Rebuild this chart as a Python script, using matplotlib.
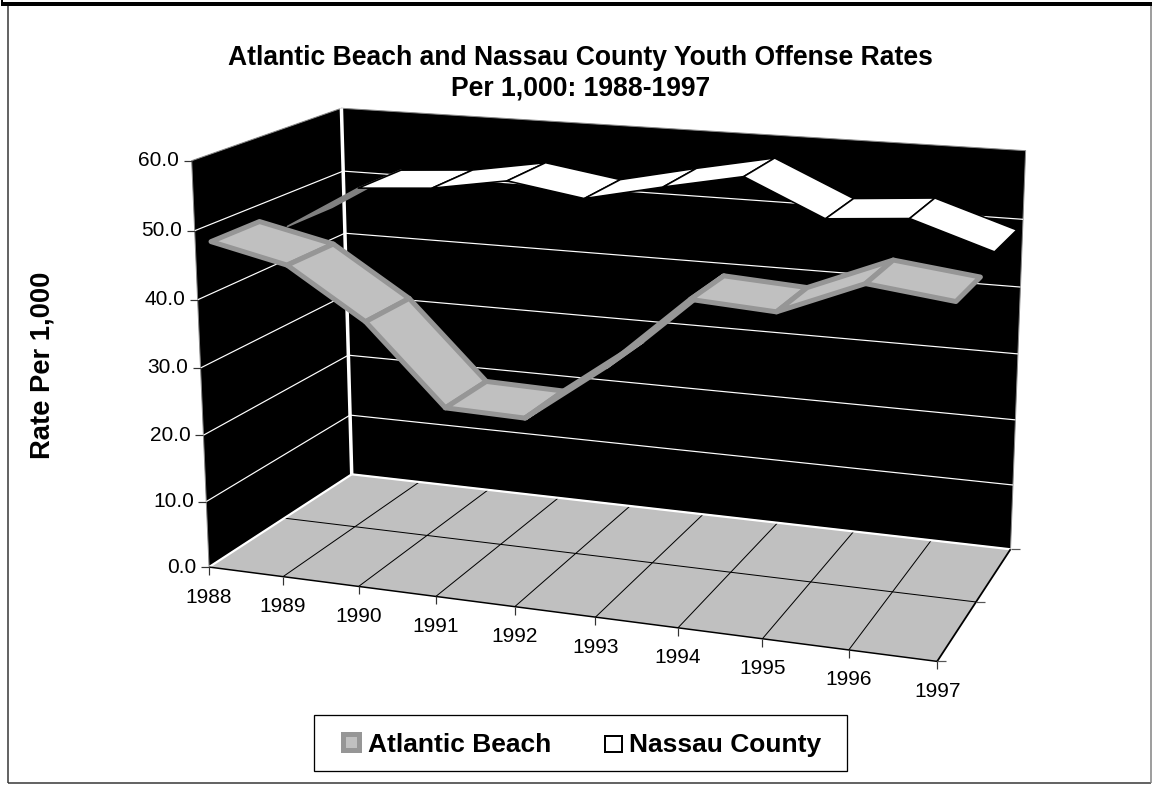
import numpy as np, matplotlib
matplotlib.use('Agg')
import matplotlib.pyplot as plt
from matplotlib.patches import Polygon, Rectangle

plt.rcParams['font.family'] = ['Liberation Sans', 'DejaVu Sans']

years = [1988, 1989, 1990, 1991, 1992, 1993, 1994, 1995, 1996, 1997]
atlantic_beach = [47.5, 45.0, 37.8, 26.4, 26.1, 34.6, 45.0, 44.3, 49.1, 47.7]
nassau_county = [45.0, 51.7, 52.5, 54.4, 52.6, 55.1, 57.4, 52.2, 53.1, 49.3]
value_ticks = [0, 10, 20, 30, 40, 50, 60]
title_lines = ['Atlantic Beach and Nassau County Youth Offense Rates', 'Per 1,000: 1988-1997']

# perspective camera of the 3-D box: (category, depth, value/10, 1) -> pixel
CAM = np.array([[70.97148, 183.36199, -4.15773, 209.08152],
                [3.47811, -37.84146, -68.78253, 567.06046],
                [-0.01059, 0.11578, -0.00656, 1.0]])

def project(u, z, v):
    h = CAM @ np.array([u, z, v / 10.0, 1.0])
    return h[0] / h[2], h[1] / h[2]

fig = plt.figure(figsize=(11.52, 7.86), dpi=100, facecolor='white')
ax = fig.add_axes([0, 0, 1, 1])
ax.set_xlim(0, 1152); ax.set_ylim(786, 0); ax.axis('off')
PX = 72.0 / 100.0
n = len(years) - 1
vmax = value_ticks[-1]
BLACK, WHITE, FLOOR, EDGE, UNDER = '#000000', '#ffffff', '#c0c0c0', '#969696', '#808080'

def line(p, q, c, lw, zo=2, cap='butt'):
    ax.plot([p[0], q[0]], [p[1], q[1]], color=c, lw=lw * PX, zorder=zo, solid_capstyle=cap)

# outer frame
line((7.5, 4), (7.5, 783), '#333333', 1.5, 1)
line((7.5, 783), (1151, 783), '#333333', 1.5, 1)
line((1151, 4), (1151, 783), '#808080', 1.5, 1)
ax.add_patch(Rectangle((1, 2), 1151, 4, fc=BLACK, ec='none', zorder=1.1))
ax.add_patch(Rectangle((1, 0), 1.5, 4, fc=BLACK, ec='none', zorder=1.1))

# walls and floor
ax.add_patch(Polygon([project(0, 0, 0), project(0, 1, 0), project(0, 1, vmax), project(0, 0, vmax)],
                     fc=BLACK, ec='#888888', lw=1 * PX, zorder=2))
ax.add_patch(Polygon([project(0, 1, 0), project(n, 1, 0), project(n, 1, vmax), project(0, 1, vmax)],
                     fc=BLACK, ec='#888888', lw=1 * PX, zorder=2))
ax.add_patch(Polygon([project(0, 0, 0), project(n, 0, 0), project(n, 1, 0), project(0, 1, 0)],
                     fc=FLOOR, ec='none', zorder=2.1))

# value gridlines
for v in value_ticks[1:-1]:
    line(project(0, 0, v), project(0, 1, v), WHITE, 1.2, 2.2)
    line(project(0, 1, v), project(n, 1, v), WHITE, 1.2, 2.2)

# floor grid
for k in range(1, n):
    line(project(k, 0, 0), project(k, 1, 0), BLACK, 1, 2.3)
line(project(0, .5, 0), project(n, .5, 0), BLACK, 1, 2.3)

# box edges
line(project(0, 1, 0), project(0, 1, vmax), WHITE, 3.5, 2.4)
line(project(0, 0, 0), project(0, 1, 0), WHITE, 2.2, 2.4)
line(project(0, 1, 0), project(n, 1, 0), WHITE, 2.2, 2.4)
line(project(0, 0, 0), project(n, 0, 0), BLACK, 1.5, 2.4)
line(project(n, 0, 0), project(n, 1, 0), BLACK, 1.8, 2.4)

# value axis ticks and labels
for v in value_ticks:
    x, y = project(0, 0, v)
    line((x - 8, y), (x, y), '#333333', 1.2, 2.5)
    ax.text(x - 12.5, y, f'{v:.1f}', ha='right', va='center', fontsize=15, color=BLACK)

# category ticks and labels
for k, yr in enumerate(years):
    x, y = project(k, 0, 0)
    line((x, y), (x, y + 8), '#333333', 1.2, 2.5)
    ax.text(x, y + 30, str(yr), ha='center', va='center', fontsize=15, color=BLACK)

# depth axis ticks
for z in (0, .5, 1):
    x, y = project(n, z, 0)
    line((x, y), (x + 9, y), '#555555', 1.2, 2.5)

def ribbon(vals, z0, z1, face, edge, under, lw, zo, under_edge):
    for i in range(len(vals) - 1):
        a, b = project(i, z0, vals[i]), project(i + 1, z0, vals[i + 1])
        c, d = project(i + 1, z1, vals[i + 1]), project(i, z1, vals[i])
        ex, ey = b[0] - a[0], b[1] - a[1]
        fx, fy = d[0] - a[0], d[1] - a[1]
        cross = ex * fy - ey * fx
        width = -cross / np.hypot(ex, ey)
        thin = width < 8
        ax.add_patch(Polygon([a, b, c, d], closed=True, fc=under if thin else face,
                             ec=under_edge if thin else edge, lw=lw * PX, joinstyle='round',
                             zorder=zo + i * 0.01))

ribbon(nassau_county, 0.59, 0.91, WHITE, BLACK, UNDER, 1.6, 3, UNDER)
ribbon(atlantic_beach, 0.095, 0.405, FLOOR, EDGE, EDGE, 5, 4, EDGE)

# titles
ax.text(580.5, 58, title_lines[0], ha='center', va='center', fontsize=19.1, fontweight='bold')
ax.text(580.5, 89, title_lines[1], ha='center', va='center', fontsize=19.1, fontweight='bold')
ax.text(43, 365.5, 'Rate Per 1,000', rotation=90, ha='center', va='center', fontsize=19.7, fontweight='bold')

# legend
ax.add_patch(Rectangle((314, 715), 533, 56, fc=WHITE, ec=BLACK, lw=1.3 * PX, zorder=5))
ax.add_patch(Rectangle((341, 732), 21, 21, fc=EDGE, ec='none', zorder=6))
ax.add_patch(Rectangle((346, 737), 11, 11, fc=FLOOR, ec='none', zorder=6.1))
ax.add_patch(Rectangle((605, 735.5), 17, 16, fc=WHITE, ec=BLACK, lw=2 * PX, zorder=6))
ax.text(368, 752, 'Atlantic Beach', ha='left', va='baseline', fontsize=19, fontweight='bold', zorder=6)
ax.text(629, 752, 'Nassau County', ha='left', va='baseline', fontsize=19, fontweight='bold', zorder=6)

fig.savefig('out.png', dpi=100, facecolor='white')
